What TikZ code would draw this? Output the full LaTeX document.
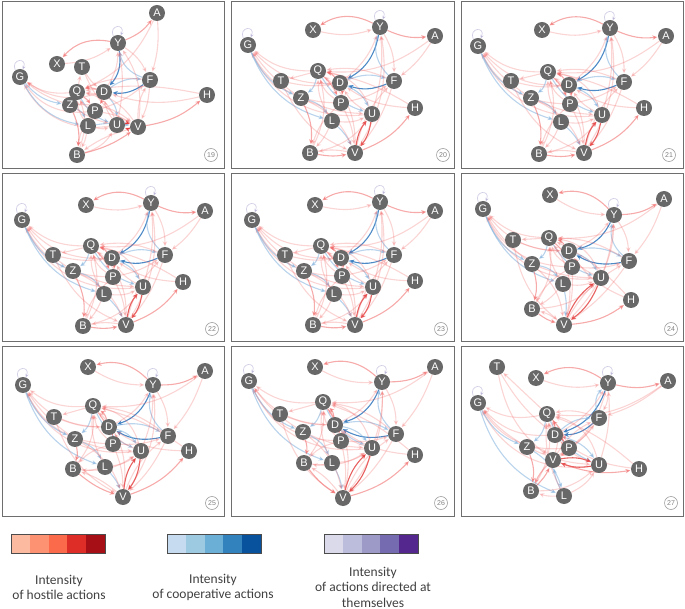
\documentclass[tikz,border=0pt]{standalone}
\usepackage{fontspec}
\setsansfont{Liberation Sans}
\newfontfamily\legendfont{Carlito}
\usetikzlibrary{arrows.meta,backgrounds}

\definecolor{actorgray}{HTML}{686868}
\definecolor{framegray}{HTML}{6E6E6E}
\definecolor{hostred}{HTML}{F06464}
\definecolor{darkred}{HTML}{E23A3A}
\definecolor{coopblue}{HTML}{3A7DC0}
\definecolor{paleblue}{HTML}{7FB0DC}
\definecolor{selfpurple}{HTML}{A49FCC}
\definecolor{r1}{HTML}{FCBBA1}\definecolor{r2}{HTML}{FC9272}\definecolor{r3}{HTML}{FB6A4A}
\definecolor{r4}{HTML}{DE2D26}\definecolor{r5}{HTML}{A50F15}
\definecolor{b1}{HTML}{C6DBEF}\definecolor{b2}{HTML}{9ECAE1}\definecolor{b3}{HTML}{6BAED6}
\definecolor{b4}{HTML}{3182BD}\definecolor{b5}{HTML}{08519C}
\definecolor{p1}{HTML}{DADAEB}\definecolor{p2}{HTML}{BCBDDC}\definecolor{p3}{HTML}{9E9AC8}
\definecolor{p4}{HTML}{756BB1}\definecolor{p5}{HTML}{54278F}

\tikzset{
  actor/.style={circle, fill=actorgray, text=white, inner sep=0pt, minimum size=16pt,
    font=\sffamily\fontsize{11}{11}\selectfont},
  panelno/.style={circle, draw=gray!75, line width=0.6pt, text=gray, inner sep=0pt,
    minimum size=13pt, font=\sffamily\fontsize{7}{7}\selectfont},
  panelframe/.style={draw=framegray, line width=1pt},
  tie/.style={line width=1.1pt, -{Stealth[length=5pt,width=4.5pt]}, shorten >=0.5pt},
  h1/.style={tie, draw=hostred, opacity=0.28},
  h2/.style={tie, draw=hostred, opacity=0.55},
  h3/.style={tie, draw=darkred, opacity=0.8},
  c1/.style={tie, draw=paleblue, opacity=0.55},
  c2/.style={tie, draw=coopblue, opacity=0.9},
  selfloop/.style={line width=0.7pt, draw=selfpurple, opacity=0.5, -{Stealth[length=3.5pt,width=3.5pt]}},
  legendtxt/.style={align=center, text=black!75, font=\legendfont\fontsize{13.5}{15.5}\selectfont}
}

% actors of one panel: prefix, name/x/y list
\newcommand\actors[2]{\foreach \n/\x/\y in {#2} \node[actor] (#1\n) at (\x,\y) {\n};}

% the ties, same pattern in every panel
\newcommand\drawties[1]{%
  \foreach \s/\t/\k/\b in {Y/X/h2/-30, X/Y/h1/-15, Y/A/h2/-15, Y/D/c2/25, F/D/c2/20,
      D/F/c1/20, F/Y/c1/30, D/G/h1/25, Q/G/h1/20, P/G/h1/30, U/G/h1/35, Z/G/h1/10,
      G/Z/c1/-20, G/L/c1/-25, Q/Z/c1/20, Z/L/c1/20, Q/U/c1/-20, D/U/c1/20, L/V/c1/10,
      Q/T/h1/0, T/V/h1/-20, Z/B/h2/15, Z/V/h1/20, L/B/h1/10, P/B/h1/-15, B/V/h2/-10,
      U/V/h3/15, V/U/h3/15, V/H/h2/-15, H/Q/h1/-10, A/Q/h1/20, D/Q/h2/-20, P/Q/h1/20,
      U/Q/h1/-30, F/Q/h1/-15, V/Q/h1/-25, L/Q/h1/15, D/Y/h1/-15, U/Y/h1/-10, V/Y/h1/-20,
      P/F/h1/-10, V/F/h1/15, F/V/h1/10, Z/U/h1/-10, P/V/h1/10, L/U/h1/-15, B/U/h1/-20,
      Q/P/h2/10, D/P/h2/10, A/F/h1/10, H/D/h1/15, V/B/h1/-10, T/D/h1/-10, Y/F/h1/15,
      U/D/h1/15, B/Q/h1/-20}
    \draw[\k] (#1\s) to[bend left=\b] (#1\t);
  \draw[selfloop] (#1G.125) .. controls +(-5,-12) and +(5,-12) .. (#1G.70);
  \draw[selfloop] (#1Y.125) .. controls +(-5,-12) and +(5,-12) .. (#1Y.70);
}

\begin{document}
\begin{tikzpicture}[x=1pt, y=-1pt]
  \useasboundingbox (0,0) rectangle (685,609);

  % frames
  \foreach \xa/\xb in {2/224, 231/454, 461/683}
    \foreach \ya/\yb in {2/169, 174/342, 347/516}
      \draw[panelframe] (\xa,\ya) rectangle (\xb,\yb);

  \actors{19}{A/157/13, Y/118/43, X/57/64, T/82/67, G/20/77, F/150/80, D/104/92, Q/77/92,
    H/207/95, Z/70/105, P/95/111, L/88/126, U/117/125, V/138/127, B/77/155}
  \actors{20}{X/313/30, Y/380/27, A/435/36, G/248/45, Q/318/71, D/340/83, F/394/81, T/281/81,
    Z/301/98, P/341/103, H/415/108, U/372/114, L/332/121, B/310/153, V/355/153}
  \actors{21}{X/542/30, Y/610/28, A/666/36, G/478/46, Q/548/72, D/569/85, T/511/81, F/624/82,
    Z/531/98, P/570/104, H/644/108, U/602/115, L/561/122, B/539/154, V/584/153}
  \actors{22}{X/86/205, Y/151/203, A/205/211, G/22/220, Q/91/246, D/112/258, T/53/255, F/165/255,
    Z/73/271, P/113/277, H/183/282, U/143/287, L/104/294, B/83/326, V/126/325}
  \actors{23}{X/315/205, Y/380/202, A/435/211, G/252/220, Q/321/246, D/341/258, T/285/255,
    F/394/255, Z/304/271, P/342/276, H/415/281, U/373/287, L/334/294, B/313/325, V/355/325}
  \actors{24}{X/550/195, A/664/199, G/483/209, Y/614/215, T/513/240, Q/549/238, D/569/251,
    F/629/261, Z/532/264, P/572/267, U/601/278, L/563/284, H/631/300, B/532/309, V/564/325}
  \actors{25}{X/88/367, A/205/371, G/23/385, Y/153/385, Q/93/406, T/54/417, D/109/427, F/168/436,
    Z/75/439, P/113/444, U/141/451, H/189/451, L/105/467, B/73/469, V/123/497}
  \actors{26}{X/315/367, A/435/367, G/249/381, Y/382/382, Q/323/402, T/280/414, D/335/425,
    Z/303/432, F/396/434, P/341/441, U/372/448, H/415/455, B/304/463, L/332/463, V/343/498}
  \actors{27}{T/497/367, X/536/378, Y/608/383, A/668/381, G/478/403, Q/547/414, F/599/418,
    D/555/435, Z/527/447, P/569/448, V/553/460, U/599/465, H/639/469, B/531/491, L/564/496}

  % panel numbers
  \foreach \p/\x/\y in {19/211/155, 20/443/155, 21/669/155, 22/212/329, 23/441/329,
      24/671/329, 25/212/503, 26/441/503, 27/671/503}
    \node[panelno] (no\p) at (\x,\y) {\p};

  \begin{scope}[on background layer]
    \foreach \p in {19,...,27} {\drawties{\p}}
  \end{scope}

  % legend bars
  \foreach \bx/\pal in {11/r, 167/b, 324/p} {
    \foreach \i in {1,...,5}
      \fill[\pal\i] (\bx+\i*18.8-18.8,534) rectangle ++(18.8,19);
    \draw[black!70, line width=0.8pt] (\bx,534) rectangle ++(94,19);
  }
  \node[legendtxt] (hostile) at (59,587.5) {Intensity\\of hostile actions};
  \node[legendtxt] (coop) at (213,587.5) {Intensity\\of cooperative actions};
  \node[legendtxt] (selfdir) at (373,587) {Intensity\\of actions directed at\\themselves};
\end{tikzpicture}
\end{document}
